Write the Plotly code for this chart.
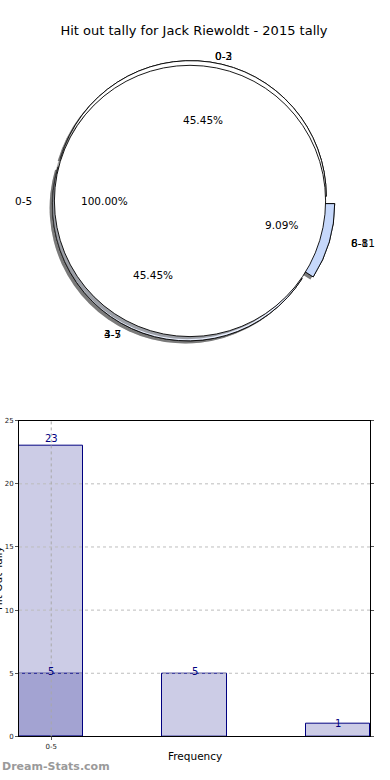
import math
import plotly.graph_objects as go

# ---------------- data ----------------
title_text = "Hit out tally for Jack Riewoldt - 2015 tally"

full_labels = ["0-5"]
full_values = [23]

pie_labels_a = ["0-2", "3-5", "6-8"]
pie_labels_b = ["0-3", "4-7", "8-11"]
pie_values = [5, 5, 1]

bar_pos = [0, 1, 2]
bar_values = [23, 5, 1]
overlay_pos = [0]
overlay_values = [5]
x_tickvals = [0]
x_ticktext = ["0-5"]
y_ticks = [0, 5, 10, 15, 20, 25]

x_title = "Frequency"
y_title = "Hit Out Tally"
watermark = "Dream-Stats.com"

# ---------------- style ----------------
W, H = 390, 780
FONT = "DejaVu Sans"
pie_colors = ["#ffffff", "#eaf0ff", "#c6d8fb"]
pulls = [0.035, 0.035, 0.07]
shadow_col = "rgba(77,77,77,0.5)"
bar_fill = "rgba(0,0,128,0.2)"
bar_edge = "#000080"


def px(x):
    return x / W


def py(y):
    return 1 - y / H


cx, cy = 190, 199          # pie centre in pixels
R = 137                    # pie radius in pixels
rx_txt, ry_txt = 142, 130  # text placement radii
sh_dx, sh_dy = -2.8, 2.6   # shadow offset


def dom(c_x, c_y, half):
    return dict(x=[px(c_x - half), px(c_x + half)],
                y=[py(c_y + half), py(c_y - half)])


def ccw_rotation(values, start_deg=0.0):
    # plotly (counterclockwise): first slice spans [rot, rot + a0] measured
    # clockwise from 12 o'clock; make it start at math angle start_deg.
    a0 = 360.0 * values[0] / sum(values)
    return 90.0 - start_deg - a0


fig = go.Figure()
max_pull = max(pulls)
half_pulled = R * (1 + max_pull)

common = dict(sort=False, direction="counterclockwise",
              textinfo="none", hoverinfo="skip", showlegend=False)

rot_pulled = ccw_rotation(pie_values)
rot_full = ccw_rotation(full_values)

# two overlapping pulled pies, each with its shadow
for labels in (pie_labels_a, pie_labels_b):
    fig.add_trace(go.Pie(labels=labels, values=pie_values, pull=pulls,
                         rotation=rot_pulled,
                         marker=dict(colors=[shadow_col] * len(pie_values),
                                     line=dict(width=0)),
                         domain=dom(cx + sh_dx, cy + sh_dy, half_pulled),
                         **common))
    fig.add_trace(go.Pie(labels=labels, values=pie_values, pull=pulls,
                         rotation=rot_pulled,
                         marker=dict(colors=pie_colors,
                                     line=dict(color="black", width=0.9)),
                         domain=dom(cx, cy, half_pulled), **common))

# full pie with shadow on top
fig.add_trace(go.Pie(labels=full_labels, values=full_values, rotation=rot_full,
                     marker=dict(colors=[shadow_col], line=dict(width=0)),
                     domain=dom(cx + sh_dx, cy + sh_dy, R), **common))
fig.add_trace(go.Pie(labels=full_labels, values=full_values, rotation=rot_full,
                     marker=dict(colors=["#ffffff"],
                                 line=dict(color="black", width=0.9)),
                     domain=dom(cx, cy, R), **common))

annotations = []
seen_pct = set()


def pie_text(labels, values, explode, start=0.0):
    total = sum(values)
    ang = start
    for i, (lab, v) in enumerate(zip(labels, values)):
        span = 360.0 * v / total
        mid = math.radians(ang + span / 2)
        e = explode[i] if explode else 0.0
        c, s = math.cos(mid), math.sin(mid)
        lx = cx + (1.1 + e) * rx_txt * c
        ly = cy - (1.1 + e) * ry_txt * s
        annotations.append(dict(x=px(lx), y=py(ly), xref="paper", yref="paper",
                                text=lab, showarrow=False,
                                xanchor="left" if c > 0 else "right",
                                yanchor="middle",
                                font=dict(family=FONT, size=10.5, color="black")))
        tx = cx + (0.6 + e) * rx_txt * c
        ty = cy - (0.6 + e) * ry_txt * s
        key = (round(tx, 1), round(ty, 1))
        if key not in seen_pct:
            seen_pct.add(key)
            annotations.append(dict(x=px(tx), y=py(ty), xref="paper", yref="paper",
                                    text=f"{100.0 * v / total:.2f}%", showarrow=False,
                                    xanchor="center", yanchor="middle",
                                    font=dict(family=FONT, size=10.5, color="black")))
        ang += span


pie_text(full_labels, full_values, None)
pie_text(pie_labels_a, pie_values, pulls)
pie_text(pie_labels_b, pie_values, pulls)

# ---------------- bars ----------------
fig.add_trace(go.Bar(x=bar_pos, y=bar_values, width=0.45,
                     marker=dict(color=bar_fill, line=dict(color=bar_edge, width=1)),
                     xaxis="x", yaxis="y", hoverinfo="skip", showlegend=False))
fig.add_trace(go.Bar(x=overlay_pos, y=overlay_values, width=0.45,
                     marker=dict(color=bar_fill, line=dict(color=bar_edge, width=1)),
                     xaxis="x", yaxis="y", hoverinfo="skip", showlegend=False))

for xs, ys in ((bar_pos, bar_values), (overlay_pos, overlay_values)):
    for xv, yv in zip(xs, ys):
        annotations.append(dict(x=xv, y=yv * 1.025, xref="x", yref="y",
                                text=str(yv), showarrow=False,
                                xanchor="center", yanchor="middle",
                                font=dict(family=FONT, size=10, color=bar_edge)))

shapes = []
for yv in y_ticks[1:-1]:
    shapes.append(dict(type="line", xref="x domain", yref="y", x0=0, x1=1,
                       y0=yv, y1=yv, layer="above",
                       line=dict(color="#bdbdbd", width=1, dash="dot")))
for xv in x_tickvals:
    shapes.append(dict(type="line", xref="x", yref="y domain", x0=xv, x1=xv,
                       y0=0, y1=1, layer="above",
                       line=dict(color="#a8a8a8", width=1, dash="dot")))

annotations.append(dict(x=px(194.5), y=py(760), xref="paper", yref="paper",
                        text=x_title, showarrow=False, xanchor="center",
                        yanchor="middle",
                        font=dict(family=FONT, size=10.5, color="black")))
annotations.append(dict(x=px(-2), y=py(580), xref="paper", yref="paper",
                        text=y_title, showarrow=False, textangle=-90,
                        xanchor="center", yanchor="middle",
                        font=dict(family=FONT, size=10.5, color="black")))
annotations.append(dict(x=0, y=py(770), xref="paper", yref="paper",
                        text=watermark, showarrow=False, xanchor="left",
                        yanchor="middle",
                        font=dict(family=FONT, size=11, color="#9a9a9a",
                                  weight="bold")))

fig.update_layout(
    width=W, height=H,
    margin=dict(l=0, r=0, t=0, b=0),
    paper_bgcolor="white", plot_bgcolor="white",
    barmode="overlay", bargap=0,
    showlegend=False,
    title=dict(text=title_text, x=px(194), y=py(30), xref="paper",
               yref="container", xanchor="center", yanchor="middle",
               font=dict(family=FONT, size=13, color="black")),
    xaxis=dict(domain=[px(19), px(370)], range=[-0.225, 2.225],
               tickvals=x_tickvals, ticktext=x_ticktext,
               showgrid=False, zeroline=False,
               showline=True, linecolor="black", linewidth=1, mirror=True,
               ticks="outside", ticklen=3, tickcolor="#555",
               tickfont=dict(family=FONT, size=7, color="#222"), fixedrange=True),
    yaxis=dict(domain=[py(740), py(421)], range=[0, 25],
               tickvals=y_ticks, showgrid=False, zeroline=False,
               showline=True, linecolor="black", linewidth=1, mirror="ticks",
               ticks="outside", ticklen=3, tickcolor="#555",
               tickfont=dict(family=FONT, size=7, color="#222"), fixedrange=True),
    annotations=annotations,
    shapes=shapes,
)

fig.write_html("out.html",
               config={"displayModeBar": False},
               post_script="document.body.style.margin='0';"
                           "document.body.style.overflow='hidden';")
